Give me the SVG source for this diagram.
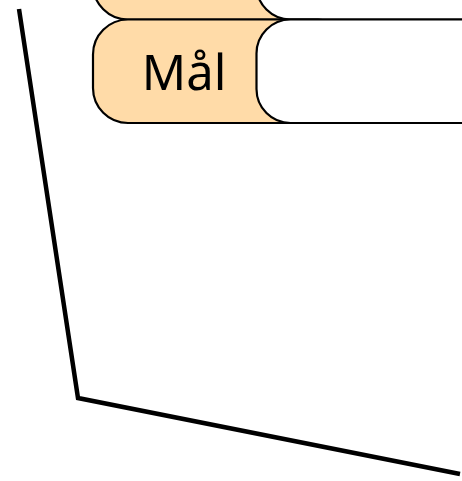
<svg xmlns="http://www.w3.org/2000/svg" width="462" height="481" viewBox="0 0 462 481">
<style>
.lbl{fill:#FFDBA8;stroke:#000;stroke-width:2.2}
.val{fill:#FFFFFF;stroke:#000;stroke-width:2.2}
.txt{font-family:"Noto Sans","Open Sans",sans-serif;font-size:49px;fill:#000;text-anchor:middle}
.conn{fill:none;stroke:#000;stroke-width:4.5;stroke-linejoin:miter}
</style>
<rect width="462" height="481" fill="#FFFFFF"/>
<g id="row-top">
<rect class="lbl" x="93" y="-84" width="260" height="103.5" rx="35" ry="35"/>
<rect class="val" x="256.5" y="-84" width="260" height="103.5" rx="34" ry="34"/>
</g>
<g id="row-mal">
<rect class="lbl" x="93" y="19.5" width="260" height="103.5" rx="35" ry="35"/>
<rect class="val" x="256.5" y="19.5" width="260" height="103.5" rx="34" ry="34"/>
<text class="txt" x="184" y="90">Mål</text>
</g>
<g id="connectors">
<polyline class="conn" points="19,9 78,398 460,474"/>
</g>
</svg>
